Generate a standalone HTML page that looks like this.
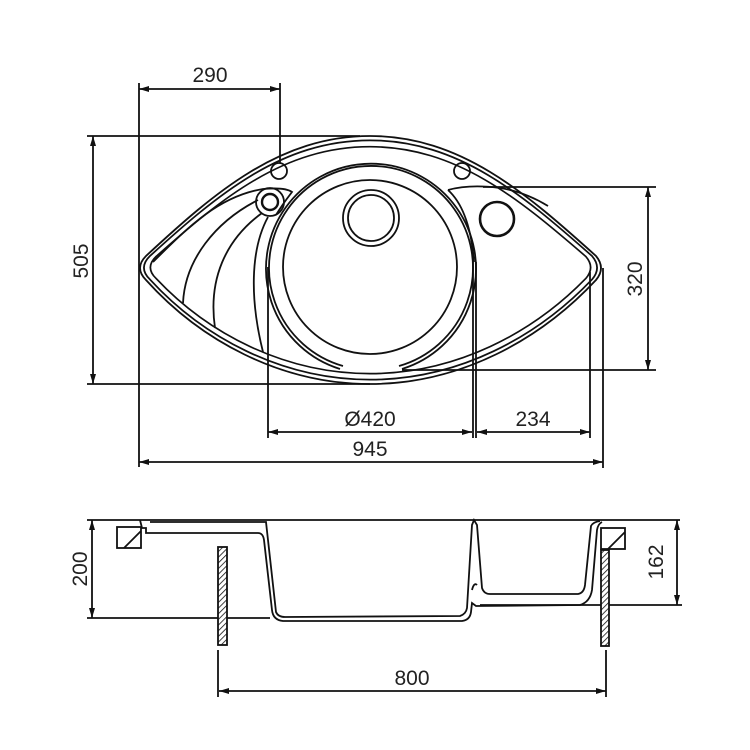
<!DOCTYPE html>
<html><head><meta charset="utf-8"><style>
html,body{margin:0;padding:0;background:#fff;width:750px;height:750px;overflow:hidden}
text{font-family:"Liberation Sans",sans-serif;font-size:21px;fill:#222}
</style></head><body>
<svg width="750" height="750" viewBox="0 0 750 750" xmlns="http://www.w3.org/2000/svg">
<defs>
<marker id="a" viewBox="0 0 10 6" refX="10" refY="3" markerWidth="14" markerHeight="6" markerUnits="userSpaceOnUse" orient="auto-start-reverse"><path d="M0,0L10,3L0,6Z" fill="#111"/></marker>
<pattern id="h" width="4" height="4" patternUnits="userSpaceOnUse" patternTransform="rotate(45)"><rect width="4" height="4" fill="#fff"/><line x1="0" y1="0" x2="0" y2="4" stroke="#111" stroke-width="1.6"/></pattern>
<path id="eye" d="M146,256 C215,192 280,136 370,136 C460,136 525,192 596,256 Q606,268 596,280 C540,340 460,384 370,384 C280,384 200,340 146,280 Q134,268 146,256 Z"/>
</defs>
<g fill="none" stroke="#111" stroke-width="1.8">
<use href="#eye"/>
<use href="#eye" transform="translate(370,260) scale(0.983,0.965) translate(-370,-260)" vector-effect="non-scaling-stroke"/>
<use href="#eye" transform="translate(370,262) scale(0.955,0.915) translate(-370,-262)" vector-effect="non-scaling-stroke"/>
<path d="M340,369 A105,105 0 1 1 402,369"/>
<path d="M343,366 A102,102 0 1 1 399,366"/>
<circle cx="370" cy="267" r="87"/>
<circle cx="371" cy="218" r="28"/>
<circle cx="371" cy="218" r="23"/>
<circle cx="279" cy="171" r="8"/>
<circle cx="462" cy="171" r="8"/>
<circle cx="270" cy="202" r="14"/>
<circle cx="270" cy="202" r="8" stroke-width="2.4"/>
<circle cx="497" cy="219" r="17" stroke-width="2.6"/>
<path d="M153,262 C190,225 220,196 263,189 Q285,187 292,192 Q282,205 276,215"/>
<path d="M183,303 C185,260 215,222 258,200"/>
<path d="M215,328 C208,280 225,240 262,213"/>
<path d="M263,352 C250,300 250,250 268,217"/>
<path d="M448,190 Q470,184 500,188 C520,191 535,198 548,206"/>
<path d="M448,190 Q470,210 474,262"/>
<line x1="87" y1="136" x2="360" y2="136"/>
<line x1="87" y1="384" x2="370" y2="384"/>
<line x1="93" y1="136" x2="93" y2="384" marker-start="url(#a)" marker-end="url(#a)"/>
<line x1="139" y1="83" x2="139" y2="467"/>
<line x1="280" y1="83" x2="280" y2="163"/>
<line x1="139" y1="89" x2="280" y2="89" marker-start="url(#a)" marker-end="url(#a)"/>
<line x1="483" y1="187" x2="656" y2="187"/>
<line x1="402" y1="370" x2="656" y2="370"/>
<line x1="648" y1="187" x2="648" y2="370" marker-start="url(#a)" marker-end="url(#a)"/>
<line x1="268" y1="267" x2="268" y2="438"/>
<line x1="473" y1="262" x2="473" y2="438"/>
<line x1="476" y1="262" x2="476" y2="438"/>
<line x1="590" y1="272" x2="590" y2="438"/>
<line x1="603" y1="268" x2="603" y2="468"/>
<line x1="268" y1="432" x2="472" y2="432" marker-start="url(#a)" marker-end="url(#a)"/>
<line x1="477" y1="432" x2="590" y2="432" marker-start="url(#a)" marker-end="url(#a)"/>
<line x1="139" y1="462" x2="603" y2="462" marker-start="url(#a)" marker-end="url(#a)"/>
<line x1="87" y1="520" x2="680" y2="520"/>
<line x1="87" y1="618" x2="270" y2="618"/>
<line x1="92" y1="520" x2="92" y2="618" marker-start="url(#a)" marker-end="url(#a)"/>
<line x1="480" y1="605" x2="682" y2="605"/>
<line x1="677" y1="520" x2="677" y2="605" marker-start="url(#a)" marker-end="url(#a)"/>
<rect x="117" y="527" width="24" height="21"/>
<line x1="124" y1="548" x2="141" y2="531"/>
<rect x="601" y="528" width="24" height="21"/>
<line x1="608" y1="549" x2="625" y2="532"/>
<rect x="218" y="547" width="9" height="98" fill="url(#h)"/>
<rect x="601" y="550" width="8" height="96" fill="url(#h)"/>
<line x1="218" y1="650" x2="218" y2="697"/>
<line x1="606" y1="650" x2="606" y2="697"/>
<line x1="219" y1="691" x2="606" y2="691" marker-start="url(#a)" marker-end="url(#a)"/>
<path d="M140,520 L142,528 L146,528 L146,533 L258,533 Q263,533 264,540 L272,610 Q273,620 283,621 L462,621 Q470,620 471,612 L472,603 L476,606 L580,605 Q590,602 592,590 L597,530 Q598,524 602,522"/>
<path d="M150,522 L266,522 L276,612 Q278,617 285,617 L460,616 Q466,614 467,608 L472,525 L474,520 L477,525 L482,588 Q484,594 490,594 L578,594 Q584,593 585,585 L591,526 Q593,522 600,521"/>
<path d="M472,590 Q474,582 477,585"/>
</g>
<text x="210" y="82" text-anchor="middle">290</text>
<text transform="translate(88,261) rotate(-90)" text-anchor="middle">505</text>
<text transform="translate(642,279) rotate(-90)" text-anchor="middle">320</text>
<text x="370" y="426" text-anchor="middle">Ø420</text>
<text x="533" y="426" text-anchor="middle">234</text>
<text x="370" y="456" text-anchor="middle">945</text>
<text transform="translate(87,569) rotate(-90)" text-anchor="middle">200</text>
<text transform="translate(663,562) rotate(-90)" text-anchor="middle">162</text>
<text x="412" y="685" text-anchor="middle">800</text>
</svg>
</body></html>
